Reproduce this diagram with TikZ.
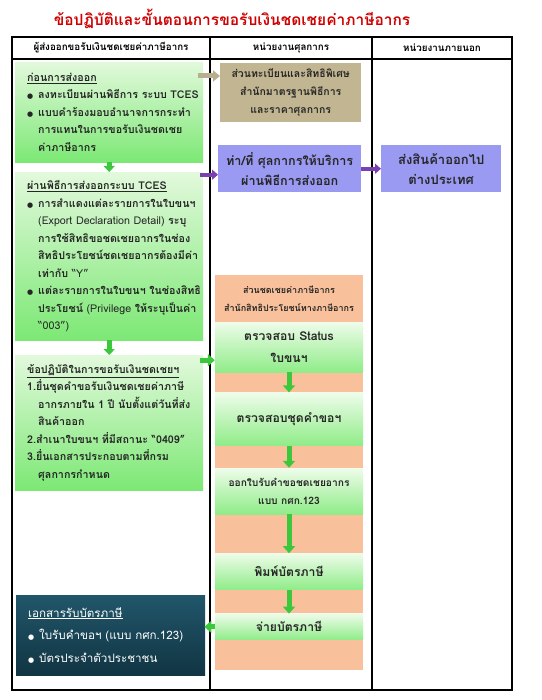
\documentclass[tikz,border=0pt]{standalone}
\usepackage{fontspec}
\setmainfont[Script=Thai]{Loma}
\newfontfamily\symfont{DejaVu Sans}
\usetikzlibrary{positioning}
\usetikzlibrary{arrows.meta}
\definecolor{titlered}{HTML}{D00000}
\definecolor{boxtop}{HTML}{E2F9DC}
\definecolor{boxbot}{HTML}{7CE874}
\definecolor{steptop}{HTML}{EEFCEA}
\definecolor{stepbot}{HTML}{8FEC88}
\definecolor{tanfill}{HTML}{C2B692}
\definecolor{purplefill}{HTML}{9A9AF2}
\definecolor{orangefill}{HTML}{F8C19B}
\definecolor{darktop}{HTML}{21566A}
\definecolor{darkbot}{HTML}{113543}
\definecolor{arrowgreen}{HTML}{3CC83C}
\definecolor{arrowpurple}{HTML}{7A3FB0}
\definecolor{arrowtan}{HTML}{B8AE90}
% line starts inside the exporter boxes
\newcommand{\hd}[1]{\hspace*{11pt}\underline{#1}}
\newcommand{\bul}{\hspace*{11pt}\makebox[11pt][l]{\symfont\fontsize{7}{7}\selectfont ●}}
\newcommand{\num}{\hspace*{11pt}}
\newcommand{\ind}{\hspace*{22pt}}
\tikzset{
    greenbox/.style = {anchor=north west, inner xsep=1pt, inner ysep=0pt, text width=186pt, minimum width=188pt, align=left, top color=boxtop, bottom color=boxbot, font=\bfseries\fontsize{10.7}{17.5}\selectfont, text=black!85},
    darkbox/.style = {anchor=north west, inner xsep=1pt, inner ysep=0pt, text width=187pt, minimum width=189pt, align=left, top color=darktop, bottom color=darkbot, font=\fontsize{11.6}{22.5}\selectfont, text=white},
    tanbox/.style = {anchor=north west, inner sep=0pt, minimum width=141pt, minimum height=59pt, align=center, fill=tanfill, font=\bfseries\fontsize{10.5}{18}\selectfont, text=black!85},
    purplebox/.style = {anchor=north west, inner sep=0pt, minimum height=47pt, align=center, fill=purplefill, font=\bfseries\fontsize{12.6}{20}\selectfont, text=black!85},
    orangebox/.style = {anchor=north west, inner sep=0pt, minimum width=148pt, minimum height=395pt, fill=orangefill},
    stepbox/.style = {inner sep=0pt, minimum width=148pt, align=center, top color=steptop, bottom color=stepbot, font=\bfseries\fontsize{12.2}{22}\selectfont, text=black!85},
    headtext/.style = {font=\bfseries\fontsize{9.8}{12}\selectfont},
    edgeg/.style = {-{Triangle[length=7pt,width=12pt]}, line width=5pt, arrowgreen},
    edgegs/.style = {-{Triangle[length=6pt,width=11pt]}, line width=5pt, arrowgreen},
    edgep/.style = {-{Triangle[length=6pt,width=10pt]}, line width=4pt, arrowpurple},
    edget/.style = {-{Triangle[length=7pt,width=11pt]}, line width=5pt, arrowtan},
    tableline/.style = {line width=1.1pt, black}
}

\begin{document}
\begin{tikzpicture}[x=1pt,y=-1pt]
\useasboundingbox (0,0) rectangle (541,700);
% title
\node[font=\bfseries\fontsize{15.5}{18}\selectfont, text=titlered] (title) at (232,19) {ข้อปฏิบัติและขั้นตอนการขอรับเงินชดเชยค่าภาษีอากร};
% table
\draw[tableline] (12,37) rectangle (512,690);
\draw[tableline] (12,59) -- (512,59);
\draw[tableline] (210,37) -- (210,690);
\draw[tableline] (372,37) -- (372,690);
\node[headtext] (h1) at (111,48) {ผู้ส่งออกขอรับเงินชดเชยค่าภาษีอากร};
\node[headtext] (h2) at (291,48) {หน่วยงานศุลกากร};
\node[headtext] (h3) at (442,48) {หน่วยงานภายนอก};

% exporter column
\node[greenbox, minimum height=100pt] (pre) at (15,62) {%
  \hd{ก่อนการส่งออก}\\
  \bul ลงทะเบียนผ่านพิธีการ ระบบ TCES\\
  \bul แบบคำร้องมอบอำนาจการกระทำ\\
  \ind การแทนในการขอรับเงินชดเชย\\
  \ind ค่าภาษีอากร};
\node[greenbox, minimum height=168pt] (tces) at (15,172) {%
  \hd{ผ่านพิธีการส่งออกระบบ TCES}\\
  \bul การสำแดงแต่ละรายการในใบขนฯ\\
  \ind {\mdseries (Export Declaration Detail)} ระบุ\\
  \ind การใช้สิทธิขอชดเชยอากรในช่อง\\
  \ind สิทธิประโยชน์ชดเชยอากรต้องมีค่า\\
  \ind เท่ากับ {\mdseries “Y”}\\
  \bul แต่ละรายการในใบขนฯ ในช่องสิทธิ\\
  \ind ประโยชน์ {\mdseries (Privilege} ให้ระบุเป็นค่า\\
  \ind {\mdseries “003”)}};
\node[greenbox, minimum height=135pt] (rules) at (15,355) {%
  \hd{ข้อปฏิบัติในการขอรับเงินชดเชยฯ}\\
  \num 1.ยื่นชุดคำขอรับเงินชดเชยค่าภาษี\\
  \ind อากรภายใน 1 ปี นับตั้งแต่วันที่ส่ง\\
  \ind สินค้าออก\\
  \num 2.สำเนาใบขนฯ ที่มีสถานะ “0409”\\
  \num 3.ยื่นเอกสารประกอบตามที่กรม\\
  \ind ศุลกากรกำหนด};
\node[darkbox, minimum height=80pt] (docs) at (16,595) {%
  \hd{เอกสารรับบัตรภาษี}\\
  \bul ใบรับคำขอฯ (แบบ กศก.123)\\
  \bul บัตรประจำตัวประชาชน};

% customs column
\node[tanbox] (reg) at (220,63) {ส่วนทะเบียนและสิทธิพิเศษ\\สำนักมาตรฐานพิธีการ\\และราคาศุลกากร};
\node[purplebox, minimum width=143pt] (port) at (218,145) {ท่า/ที่ ศุลกากรให้บริการ\\ผ่านพิธีการส่งออก};
\node[orangebox] (sub) at (215,275) {};
\node[font=\bfseries\fontsize{9}{18}\selectfont, align=center, text=black!85] (subhead) at (289,299) {ส่วนชดเชยค่าภาษีอากร\\สำนักสิทธิประโยชน์ทางภาษีอากร};
\node[stepbox, anchor=north, minimum height=50pt] (status) at (289,322) {ตรวจสอบ Status\\ใบขนฯ};
\node[stepbox, below=20pt of status, minimum height=53pt] (check) {ตรวจสอบชุดคำขอฯ};
\node[stepbox, below=22pt of check, minimum height=46pt, font=\bfseries\fontsize{10.2}{18}\selectfont] (receipt) {ออกใบรับคำขอชดเชยอากร\\แบบ กศก.123};
\node[stepbox, below=39pt of receipt, minimum height=36pt] (print) {พิมพ์บัตรภาษี};
\node[stepbox, below=24pt of print, minimum height=26pt] (pay) {จ่ายบัตรภาษี};

% outside column
\node[purplebox, minimum width=120pt, font=\bfseries\fontsize{13}{20}\selectfont] (ship) at (381,145) {ส่งสินค้าออกไป\\ต่างประเทศ};

% connectors
\coordinate (pa) at ([yshift=-6pt]port.west);
\coordinate (ga) at ([yshift=-13pt]status.west);
\draw[edget] ([xshift=-5pt,yshift=-14pt]pre.north east) -- ([yshift=-13pt]reg.north west);
\draw[edgegs] (pre.south) -- (tces.north);
\draw[edgegs] (tces.south) -- (rules.north);
\draw[edgep] ([xshift=-3pt]tces.east |- pa) -- (pa);
\draw[edgep] (port.east) -- (ship.west);
\draw[edgeg] ([xshift=-3pt]rules.east |- ga) -- (ga);
\draw[edgeg] (status.south) -- (check.north);
\draw[edgeg] (check.south) -- (receipt.north);
\draw[edgeg] (receipt.south) -- (print.north);
\draw[edgeg] (print.south) -- (pay.north);
\draw[edgeg] (pay.west) -- ([xshift=-1pt]docs.east |- pay.west);
\end{tikzpicture}
\end{document}
